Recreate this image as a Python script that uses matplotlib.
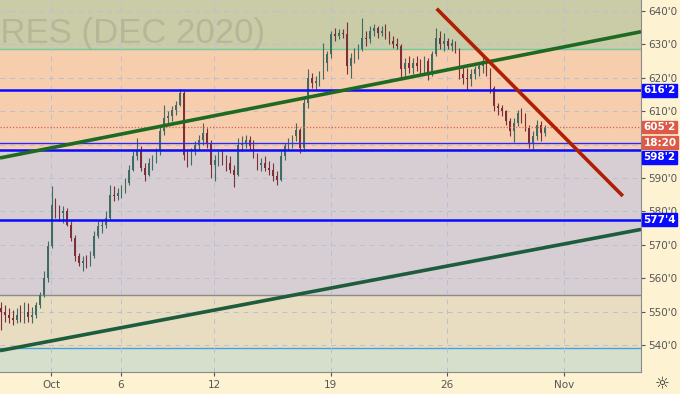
import numpy as np
import matplotlib
matplotlib.use("Agg")
from matplotlib import pyplot as plt
import matplotlib.transforms as mtransforms

# bar data: 6 bars per trading day, day 0 = Oct 1
first_bar = -2.146
highs = [553, 552, 551, 550.5, 551, 552, 553, 552.5, 551.5, 553, 556, 562, 571, 587.5, 584, 582, 581.5, 581, 577, 573,
         567.5, 566.5, 567, 568, 574, 577, 577.5, 580, 588, 587.5, 587, 588, 590, 594, 598, 602, 599.5, 594.5, 596, 597,
         599, 606, 612, 610, 611.5, 613, 616.6, 616, 598, 599, 601, 603, 606.5, 605, 601.5, 597, 598, 598.5, 597, 596.5,
         594, 602, 602.5, 603, 602.5, 601.5, 597.5, 596, 596.5, 595, 594.5, 592, 598, 600.5, 602, 603, 606.5, 605, 614, 622.5,
         621.5, 620.5, 622, 630.5, 628, 634, 635, 634.5, 634.5, 636.7, 627.5, 629, 630, 638, 634, 635.5, 636, 635.5, 635.5, 636,
         634, 632.5, 632, 630, 626, 626.5, 626, 626.5, 625.5, 626.5, 626, 628, 635, 634, 633.5, 632, 631.5, 631, 629, 623.5,
         623, 622.5, 623.5, 624, 626.8, 626, 623, 617.5, 612.5, 612, 610.5, 608, 608, 610.5, 611, 609.5, 606, 604, 607.5, 607,
         606]
lows = [544.5, 547, 546.5, 546, 546.5, 547, 546.5, 547, 546.5, 548, 551, 554.5, 559, 569, 578, 577, 576.5, 575.5, 571, 565,
        563.5, 562, 563, 563.5, 566, 572, 573.5, 575, 577.5, 583, 583.5, 584, 585.5, 588, 592, 595.5, 592, 589, 590.5, 592.5,
        594.5, 597, 603, 606.5, 607, 609, 611.5, 595.5, 593.3, 594, 597, 598.5, 600, 599, 590, 589, 593.5, 594, 592, 591.5,
        587.3, 590.5, 598, 599, 598.5, 596, 592.5, 592, 592, 591, 589, 588, 589, 595.5, 598.5, 599, 601, 597.5, 598, 611,
        617, 616.5, 617.5, 619.5, 622, 626, 631, 631.5, 632, 621, 620, 624.5, 625.5, 628, 629.5, 630.5, 632.5, 632, 632.5, 631.5,
        630, 629, 628.5, 620, 620.5, 621.5, 621, 622, 621, 621.5, 619.3, 620.5, 626.5, 628.5, 628, 628.5, 628, 627.5, 619.5, 618,
        616.3, 617.5, 619.5, 620.5, 621.5, 620.5, 615.5, 610, 609, 608.5, 606, 602.5, 600.8, 605.5, 606.5, 604, 599, 598.7, 601.5, 601,
        602.5]
closes = [550, 549, 548, 547.5, 549, 548, 550, 548.5, 549, 552, 555, 560, 569.5, 582, 580.5, 579.5, 580, 576, 572, 566.5,
          564.5, 565, 564.5, 566.5, 572.5, 575.5, 576, 578, 585, 584.5, 585.5, 586.5, 588.5, 592.5, 596.5, 598.5, 593, 591, 594.5, 595.5,
          598, 604, 608, 608.5, 610.5, 612, 615.5, 597, 595, 598, 600, 601.5, 603.5, 600.5, 594, 595.5, 596, 595, 594.5, 592.5,
          591, 600, 600.5, 601.5, 599.5, 597, 594, 594.5, 593, 592.5, 590.5, 589.5, 596.5, 599.5, 601, 602.5, 604.5, 599, 612.5, 620,
          618.5, 619, 621, 624.5, 627, 633, 632.5, 633.5, 633, 623.5, 626, 627, 628.5, 632, 631.5, 634, 635, 633.5, 634, 633,
          631, 630, 629.5, 622.5, 624.5, 623, 624.5, 623.5, 622.5, 625, 621, 627, 632, 630, 631, 629.5, 630.5, 628.5, 621, 620,
          619.5, 621, 622.5, 623.5, 625, 622, 617, 611.5, 611, 610, 607, 604, 606.5, 609.5, 608, 605, 600.5, 602.5, 606, 603.5,
          605.2]
opens = [551] + closes[:-1]

# levels and zones
zone_edges = [643.5, 628.6, 598.0, 555.0, 539.1, 531.0]
zone_colors = ["#c9cca6", "#f6cdad", "#d7ced3", "#e8dcc1", "#d5dfcc"]
blue_levels = [616.25, 598.25, 577.5]
blue_labels = ["616'2", "598'2", "577'4"]
thin_blue = 600.5
last_price = 605.25
last_label = "605'2"
timer_label = "18:20"

# trend lines (day index, price)
up_line = ([-2.19, 25.32], [596.0, 633.8])
low_line = ([-2.19, 25.32], [538.3, 574.6])
down_line = ([16.55, 24.54], [640.7, 584.6])

date_pos = [0, 3, 7, 12, 17, 22]
date_labels = ["Oct", "6", "12", "19", "26", "Nov"]
price_ticks = [540, 550, 560, 570, 580, 590, 600, 610, 620, 630, 640]

bg = "#fdf3d2"
fig = plt.figure(figsize=(6.8, 3.94), dpi=100, facecolor=bg)
ax = fig.add_axes([0, 22 / 394, 641 / 680, 372 / 394])
ax.set_facecolor(bg)
xmin, xmax = -2.19, 25.32
ax.set_xlim(xmin, xmax)
ax.set_ylim(531.9, 643.3)

for i in range(len(zone_colors)):
    ax.axhspan(zone_edges[i + 1], zone_edges[i], color=zone_colors[i], lw=0, zorder=0)
ax.axhline(zone_edges[1], color="#72c99a", lw=1, zorder=1)
ax.axhline(zone_edges[3], color="#8a8a8a", lw=1, zorder=1)
ax.axhline(zone_edges[4], color="#45a3d9", lw=1, zorder=1)

# grid
for p in price_ticks:
    ax.axhline(p, color="#b9bfd6", lw=0.7, ls=(0, (5, 5)), zorder=1)
for d in date_pos:
    ax.axvline(d, color="#b9bfd6", lw=0.7, ls=(0, (5, 5)), zorder=1)

# watermark (left part runs off the chart, as in the original)
ax.text(265 / 641, 0.955, "FUTURES (DEC 2020)", transform=ax.transAxes, ha="right", va="top",
        fontsize=25, family="Liberation Sans", color="#a4a48e", alpha=0.5, zorder=1, clip_on=True)

# candles
t = first_bar + np.arange(len(closes)) / 6
o = np.array(opens); c = np.array(closes)
up = c >= o
cols = np.where(up, "#3e6b63", "#7c2f36")
ax.vlines(t, lows, highs, colors=cols, lw=0.8, zorder=3)
ax.bar(t, np.maximum(np.abs(c - o), 0.3), bottom=np.minimum(o, c), width=0.065, color=cols, lw=0, zorder=3)

for lv in blue_levels:
    ax.axhline(lv, color="#0a0aff", lw=1.8, zorder=4)
ax.axhline(thin_blue, color="#2a2aff", lw=1, zorder=4)
ax.axhline(last_price, color="#e0604f", lw=0.9, ls=(0, (1, 1.5)), zorder=4)

ax.plot(*up_line, color="#1f6a22", lw=2.6, zorder=5, solid_capstyle="butt")
ax.plot(*low_line, color="#1d5c3c", lw=2.6, zorder=5, solid_capstyle="butt")
ax.plot(*down_line, color="#b01f04", lw=2.6, zorder=5, solid_capstyle="butt")

# axes look
for s in ["top", "left"]:
    ax.spines[s].set_visible(False)
ax.spines["bottom"].set_color("#8a8a8a")
ax.spines["right"].set_color("#8a8a8a")
ax.yaxis.tick_right()
ax.set_yticks(price_ticks)
# 600'0 sits under the timer tag in the original, so it is not shown
ax.set_yticklabels(["" if p == 600 else f"{p}'0" for p in price_ticks])
ax.set_xticks(date_pos)
ax.set_xticklabels(date_labels)
ax.tick_params(axis="y", colors="#555555", labelsize=7.5, length=3, width=0.8, pad=2)
ax.tick_params(axis="x", colors="#555555", labelsize=7.5, length=3, width=0.8, pad=3)

# price labels on the axis
trans = mtransforms.blended_transform_factory(ax.transAxes, ax.transData)
def tag(y, s, col):
    ax.text(1.004, y, s, transform=trans, ha="left", va="center", fontsize=7.5, fontweight="bold",
            color="white", clip_on=False, zorder=6,
            bbox=dict(boxstyle="square,pad=0.12", fc=col, ec=col))

tag(blue_levels[0], blue_labels[0], "#0a0aff")
tag(last_price, last_label, "#de5a48")
tag(600.6, timer_label, "#de5a48")
tag(596.2, blue_labels[1], "#0a0aff")
tag(blue_levels[2], blue_labels[2], "#0a0aff")

fig.text(662 / 680, 10 / 394, "☼", ha="center", va="center", fontsize=12, color="#333333")

fig.savefig("out.png", dpi=100, facecolor=bg)
